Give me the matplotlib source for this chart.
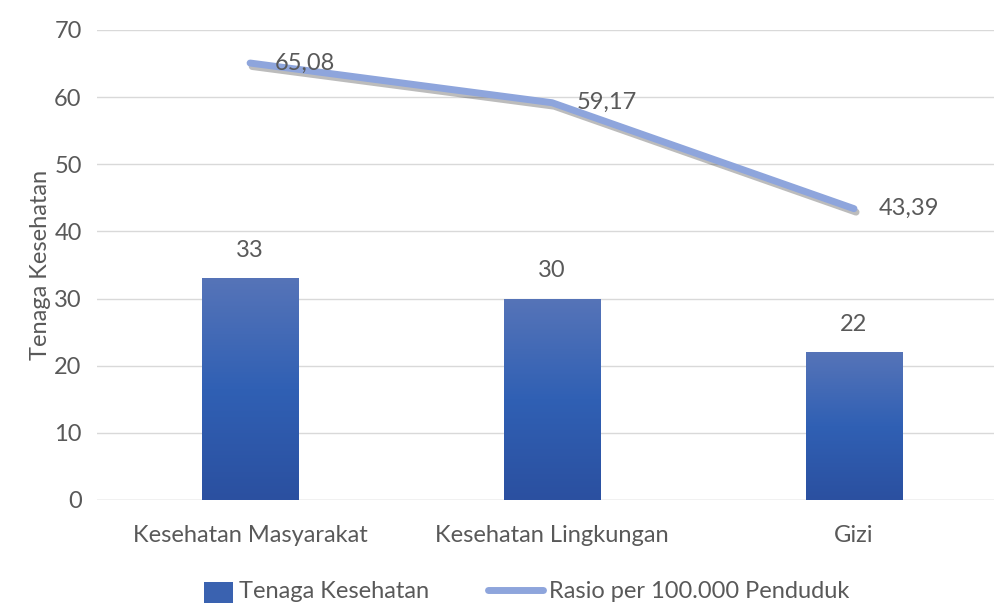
import numpy as np
import matplotlib.pyplot as plt
import matplotlib.patheffects as pe
from matplotlib.colors import LinearSegmentedColormap
from matplotlib.patches import Patch, Rectangle
from matplotlib.lines import Line2D
from matplotlib.legend_handler import HandlerPatch

plt.rcParams['font.family'] = ['Lato', 'DejaVu Sans']

categories = ["Kesehatan Masyarakat", "Kesehatan Lingkungan", "Gizi"]
tenaga = [33, 30, 22]
rasio = [65.08, 59.17, 43.39]
rasio_labels = ["65,08", "59,17", "43,39"]

text_col = "#595959"
bar_col = "#3a62b0"
line_col = "#8ea5dc"
grad = LinearSegmentedColormap.from_list("bar", ["#2b50a0", "#3060b4", "#5674b8"])
fs = 17

fig = plt.figure(figsize=(9.95, 6.03), dpi=100)
ax = fig.add_axes([97 / 995, 103 / 603, 898 / 995, 470 / 603])

x = np.arange(len(categories))
w = 0.318
bars = ax.bar(x, tenaga, width=w, color=bar_col, zorder=2,
              path_effects=[pe.SimplePatchShadow(offset=(1, -1), alpha=0.25), pe.Normal()])
gradient = np.linspace(0, 1, 256).reshape(-1, 1)
for b in bars:
    x0, y0 = b.get_x(), b.get_y()
    im = ax.imshow(gradient, cmap=grad, origin="lower", aspect="auto",
                   extent=[x0, x0 + b.get_width(), y0, y0 + b.get_height()], zorder=2.5)
    im.set_clip_path(b)

for xi, v in zip(x, tenaga):
    ax.annotate(str(v), (xi, v), xytext=(0, 28), textcoords="offset pixels",
                ha="center", va="center", fontsize=fs, color=text_col)

ax.plot(x, rasio, color=line_col, lw=5, solid_capstyle="round", zorder=3,
        path_effects=[pe.SimpleLineShadow(offset=(1.5, -2.5), alpha=0.3, shadow_color="#222222"),
                      pe.Normal()])
for xi, v, lab in zip(x, rasio, rasio_labels):
    ax.annotate(lab, (xi, v), xytext=(25, 0), textcoords="offset pixels",
                ha="left", va="center", fontsize=fs, color=text_col, zorder=4)

ax.set_xlim(-0.507, 2.467)
ax.set_ylim(0, 70)
ax.set_yticks(range(0, 71, 10))
ax.set_xticks(x)
ax.set_xticklabels(categories)
ax.tick_params(length=0, labelsize=fs, colors=text_col)
ax.tick_params(axis="x", pad=18)
ax.tick_params(axis="y", pad=11)
ax.grid(axis="y", color="#d9d9d9", lw=1, zorder=0)
for s in ax.spines.values():
    s.set_visible(False)
ax.axhline(0, color="#d9d9d9", lw=1, zorder=1)
ax.set_ylabel("Tenaga Kesehatan", fontsize=fs, color=text_col, labelpad=2)


def small_rect(legend, orig_handle, xdescent, ydescent, width, height, fontsize):
    rw = width * 29 / 55
    return Rectangle((xdescent + width - rw, ydescent - 0.3 * height), rw, height * 1.3)


handles = [Patch(facecolor=bar_col),
           Line2D([0], [0], color=line_col, lw=5, solid_capstyle="round")]
fig.legend(handles, ["Tenaga Kesehatan", "Rasio per 100.000 Penduduk"], loc="center",
           bbox_to_anchor=(0.516, 11 / 603), ncol=2, frameon=False, fontsize=fs,
           labelcolor=text_col, handlelength=2.33, handletextpad=0.25, columnspacing=2.5,
           handler_map={Patch: HandlerPatch(patch_func=small_rect)})

fig.savefig("out.png", dpi=100)
